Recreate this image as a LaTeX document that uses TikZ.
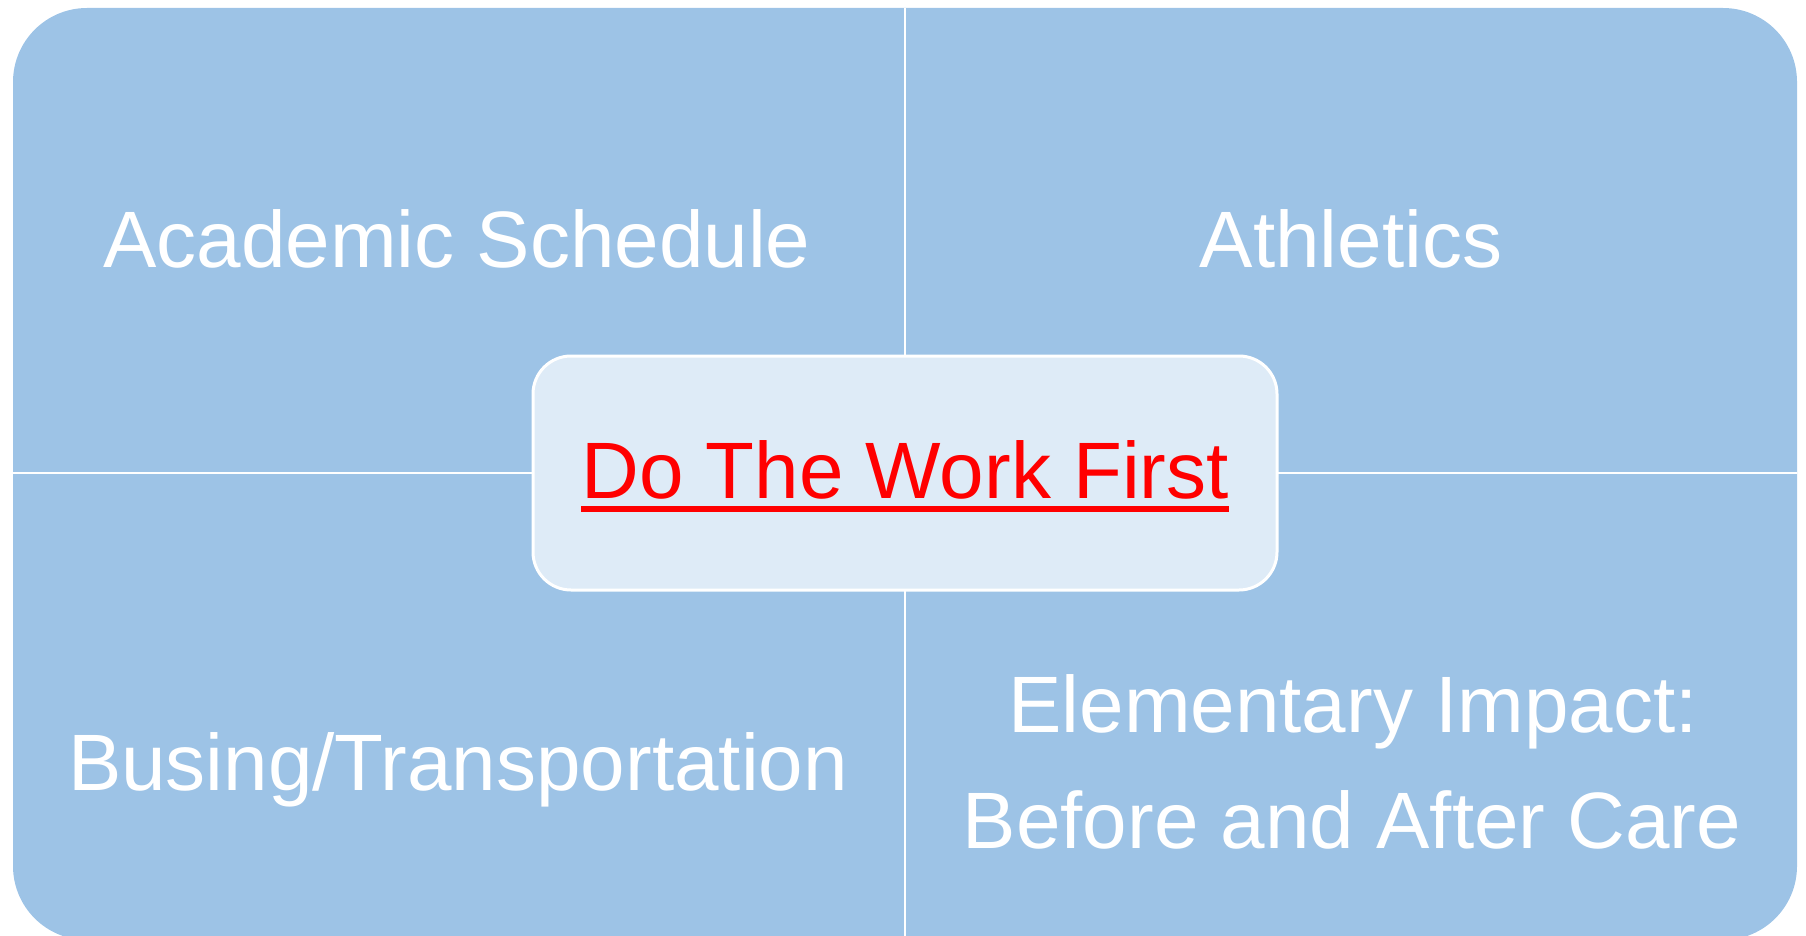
\documentclass[tikz,border=0pt]{standalone}
\usepackage{fontspec}
\setmainfont{Liberation Sans}
\definecolor{outerblue}{RGB}{157,195,230}
\definecolor{innerblue}{RGB}{222,235,247}
\definecolor{linkred}{RGB}{255,0,0}
\begin{document}
\begin{tikzpicture}[x=1pt,y=-1pt,
  lbl/.style={text=white,font=\fontsize{80}{96}\selectfont,inner sep=0pt,anchor=base},
  divider/.style={draw=white,line width=2.5pt},
  centerbox/.style={draw=white,line width=3pt,fill=innerblue,rounded corners=38pt,
    minimum width=744pt,minimum height=234pt,inner sep=0pt},
  ctext/.style={text=linkred,font=\fontsize{80}{96}\selectfont,inner sep=0pt,anchor=base}]
\useasboundingbox (0,0) rectangle (1806,936);
\clip (0,0) rectangle (1806,936);
\fill[outerblue,rounded corners=74pt] (13,8) rectangle (1797,940);
\coordinate (vt) at (905,8);
\coordinate (vb) at (905,940);
\coordinate (hl) at (13,473);
\coordinate (hr) at (1797,473);
\draw[divider] (vt) -- (vb);
\draw[divider] (hl) -- (hr);
\node[lbl] (acad) at (457,267) {Academic Schedule};
\node[lbl] (ath) at (1351,267) {Athletics};
\node[lbl] (bus) at (458,790) {Busing/Transportation};
\node[lbl] (elem1) at (1353,732) {Elementary Impact:};
\node[lbl] (elem2) at (1352,848) {Before and After Care};
\node[centerbox] (core) at (905,473) {};
\node[ctext] (work) at (905,498) {Do The Work First};
\draw[linkred,line width=6.5pt] ([yshift=-11pt]work.base west) -- ([yshift=-11pt]work.base east);
\end{tikzpicture}
\end{document}
